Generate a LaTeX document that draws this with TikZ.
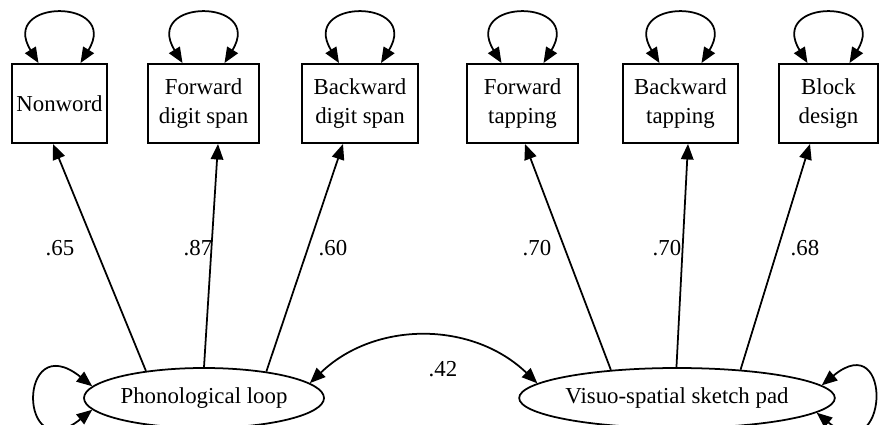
\documentclass[tikz,border=0pt]{standalone}
\usepackage{fontspec}
\setmainfont{Liberation Serif}
\usetikzlibrary{arrows.meta,shapes.geometric}

\begin{document}
\begin{tikzpicture}[
      >={Triangle[length=0.31cm,width=0.25cm]},
      every node/.style={font=\fontsize{13}{16}\selectfont},
      obs/.style={draw=black,line width=1.1pt,minimum height=1.58cm,align=center,inner sep=1pt},
      lat/.style={draw=black,line width=1pt,ellipse,minimum height=1.2cm,inner sep=0pt},
      load/.style={draw=black,line width=1pt,->},
      var/.style={draw=black,line width=1pt,<->}
    ]
    \useasboundingbox (0,0) rectangle (17.58,8.48);
    % observed measures
    \node[obs,minimum width=1.90cm] (nw) at (1.19,6.41) {Nonword};
    \node[obs,minimum width=2.22cm] (fds) at (4.07,6.41) {Forward\\ digit span};
    \node[obs,minimum width=2.32cm] (bds) at (7.20,6.41) {Backward\\ digit span};
    \node[obs,minimum width=2.22cm] (ft) at (10.45,6.41) {Forward\\ tapping};
    \node[obs,minimum width=2.30cm] (bt) at (13.61,6.41) {Backward\\ tapping};
    \node[obs,minimum width=1.98cm] (bd) at (16.57,6.41) {Block\\ design};
    % latent factors
    \node[lat,minimum width=4.80cm] (pl) at (4.08,0.52) {Phonological loop};
    \node[lat,minimum width=5.52cm] (vs) at (13.54,0.52) {Visuo-spatial sketch pad};
    % error variances on the measures
    \foreach \b in {nw,fds,bds,ft,bt,bd}{
      \draw[var] ([xshift=-0.42cm]\b.north) .. controls +(-0.8,1.3) and +(0.8,1.3) .. ([xshift=0.42cm]\b.north);
    }
    % factor variances
    \draw[var] (pl.174) .. controls +(-1.5,1.2) and +(-1.5,-1.2) .. (pl.186);
    \draw[var] (vs.5) .. controls +(1.45,1.2) and +(1.45,-1.2) .. (vs.-6);
    % loadings
    \draw[load] (pl.155) -- ([xshift=-0.13cm]nw.south);
    \draw[load] (pl.90) -- ([xshift=0.29cm]fds.south);
    \draw[load] (pl.23) -- ([xshift=-0.34cm]bds.south);
    \draw[load] (vs.157) -- ([xshift=0.05cm]ft.south);
    \draw[load] (vs.91) -- ([xshift=0.15cm]bt.south);
    \draw[load] (vs.24) -- ([xshift=-0.37cm]bd.south);
    \node (l1) at (1.20,3.52) {.65};
    \node (l2) at (3.96,3.52) {.87};
    \node (l3) at (6.66,3.52) {.60};
    \node (l4) at (10.74,3.52) {.70};
    \node (l5) at (13.34,3.52) {.70};
    \node (l6) at (16.10,3.52) {.68};
    % factor covariance
    \draw[var] (pl.8) .. controls +(1.3,1.25) and +(-1.3,1.25) .. (vs.174);
    \node (cov) at (8.86,1.10) {.42};
\end{tikzpicture}
\end{document}
